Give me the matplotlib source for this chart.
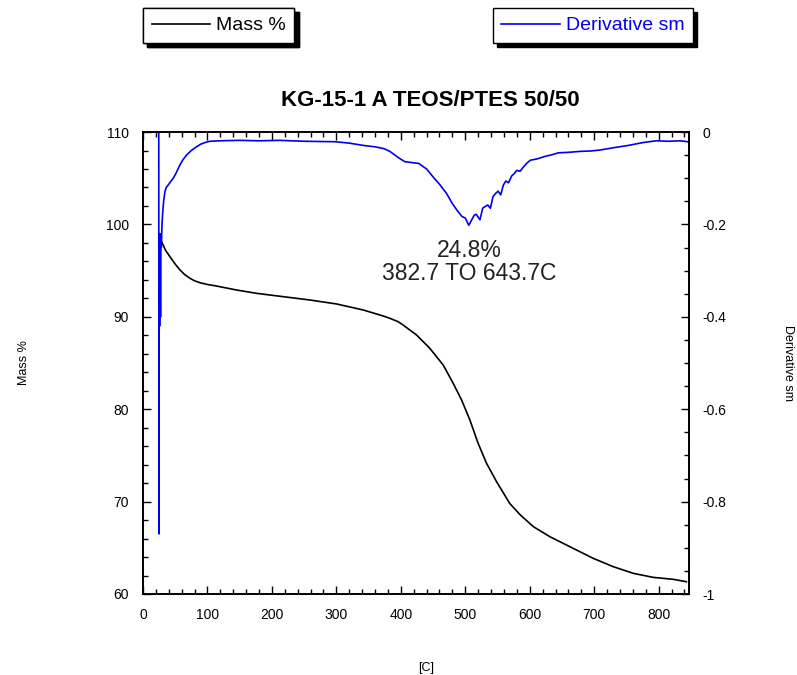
import numpy as np
import matplotlib
matplotlib.use("Agg")
import matplotlib.pyplot as plt
from matplotlib.ticker import MultipleLocator

plt.rcParams['font.family'] = ['Liberation Sans', 'DejaVu Sans']

# Масса, % от температуры
mass_temp = [26, 27, 29, 35, 41.9, 50, 57.4, 65, 72.9, 80, 88.4, 100, 114.3, 145.3,
             176.4, 217.6, 259, 300.4, 341.7, 372.7, 383, 396, 403.8, 424.5, 445,
             465.8, 481.3, 494.3, 507.2, 520, 533, 548.6, 569, 584.8, 605.4, 631.3,
             662.3, 698.5, 729.5, 760.5, 791.5, 822.5, 843]
mass_val = [98.5, 98.4, 98.13, 97.2, 96.5, 95.7, 95.07, 94.55, 94.17, 93.9, 93.69,
            93.5, 93.33, 92.9, 92.54, 92.18, 91.82, 91.39, 90.74, 90.09, 89.84, 89.47,
            89.1, 88.03, 86.59, 84.78, 82.8, 81.0, 78.83, 76.3, 74.15, 72.15, 69.8,
            68.6, 67.3, 66.2, 65.12, 63.86, 62.96, 62.24, 61.8, 61.59, 61.33]

# Производная (сглаженная)
deriv_temp = [24.5, 24.7, 25.2, 25.8, 26.5, 27.2, 27.8, 28.5, 29.5, 30.6, 32, 34, 36,
              39, 43, 47, 52, 57, 62, 67.5, 75, 83, 90, 98, 104, 118, 150, 180, 212,
              250, 298, 320, 342, 360, 374, 383, 390, 398, 406, 416, 428, 440, 450,
              460, 471, 480, 487.6, 495, 500, 505.5, 510, 514, 517, 522.8, 527, 531,
              535, 539, 543, 547, 551, 555, 559, 563, 567, 572, 576, 580, 585, 590,
              595, 601, 612, 623, 635, 644.5, 660, 677, 695, 709, 730, 753, 775, 796,
              815, 834, 845]
deriv_val = [0.01, -0.87, -0.25, -0.42, -0.22, -0.40, -0.24, -0.25, -0.20, -0.175,
             -0.15, -0.13, -0.12, -0.115, -0.107, -0.10, -0.087, -0.072, -0.06, -0.05,
             -0.04, -0.032, -0.026, -0.022, -0.02, -0.019, -0.018, -0.019, -0.018,
             -0.02, -0.021, -0.024, -0.029, -0.032, -0.036, -0.042, -0.049, -0.057,
             -0.064, -0.066, -0.068, -0.08, -0.097, -0.113, -0.133, -0.155, -0.17,
             -0.183, -0.186, -0.202, -0.19, -0.18, -0.178, -0.19, -0.165, -0.161,
             -0.158, -0.165, -0.14, -0.133, -0.128, -0.136, -0.115, -0.106, -0.11,
             -0.095, -0.09, -0.083, -0.085, -0.076, -0.068, -0.061, -0.058, -0.053,
             -0.049, -0.045, -0.044, -0.042, -0.041, -0.039, -0.034, -0.029, -0.023,
             -0.019, -0.02, -0.019, -0.021]

fig = plt.figure(figsize=(7.97, 6.75), dpi=100)
ax = fig.add_axes([0.1794, 0.12, 0.685, 0.6844])
ax2 = ax.twinx()

l1, = ax.plot(mass_temp, mass_val, color='black', lw=1.2, label='Mass %')
l2, = ax2.plot(deriv_temp, deriv_val, color='#0000ee', lw=1.2, label='Derivative sm')

ax.set_xlim(0, 847)
ax.set_ylim(60, 110)
ax2.set_ylim(-1, 0)

ax.xaxis.set_major_locator(MultipleLocator(100))
ax.xaxis.set_minor_locator(MultipleLocator(20))
ax.yaxis.set_major_locator(MultipleLocator(10))
ax.yaxis.set_minor_locator(MultipleLocator(2))
ax2.yaxis.set_minor_locator(MultipleLocator(0.05))
ax2.set_yticks([0, -0.2, -0.4, -0.6, -0.8, -1])
ax2.set_yticklabels(['0', '-0.2', '-0.4', '-0.6', '-0.8', '-1'])

ax.tick_params(axis='x', which='both', direction='in', top=True, labelsize=10, pad=10)
ax.tick_params(axis='y', which='both', direction='in', labelsize=10, pad=10)
ax2.tick_params(axis='y', which='both', direction='in', labelsize=10, pad=10)
for a in (ax, ax2):
    a.tick_params(which='major', length=6, width=1)
    a.tick_params(which='minor', length=3.5, width=1)
    for s in a.spines.values():
        s.set_linewidth(1.2)

fig.text(430 / 797, 1 - 100 / 675, 'KG-15-1 A TEOS/PTES 50/50', fontsize=16,
         fontweight='bold', ha='center', va='center')
ax.set_xlabel('[C]', fontsize=9)
ax.xaxis.set_label_coords(0.518, -0.148)
ax.set_ylabel('Mass %', fontsize=9, labelpad=55)
ax2.set_ylabel('Derivative sm', fontsize=9, rotation=-90, labelpad=40, va='bottom')

ax.text(506, 97.2, '24.8%', fontsize=16.5, ha='center', va='center', color='#222222')
ax.text(506, 94.7, '382.7 TO 643.7C', fontsize=16.5, ha='center', va='center',
        color='#222222')

shadow = {'ox': 3, 'oy': -3, 'color': 'black', 'alpha': 1}
leg1 = fig.legend(handles=[l1], loc='upper left', bbox_to_anchor=(0.1794, 0.988),
                  fontsize=14, frameon=True, fancybox=False, edgecolor='black',
                  framealpha=1, shadow=shadow, handlelength=3.0, handletextpad=0.3,
                  borderpad=0.45, borderaxespad=0, labelcolor='linecolor')
leg1.get_frame().set_linewidth(1.0)
fig.add_artist(leg1)
leg2 = fig.legend(handles=[l2], loc='upper right', bbox_to_anchor=(0.8695, 0.988),
                  fontsize=14, frameon=True, fancybox=False, edgecolor='black',
                  framealpha=1, shadow=shadow, handlelength=3.0, handletextpad=0.3,
                  borderpad=0.45, borderaxespad=0, labelcolor='linecolor')
leg2.get_frame().set_linewidth(1.0)

fig.savefig('out.png', dpi=100)
